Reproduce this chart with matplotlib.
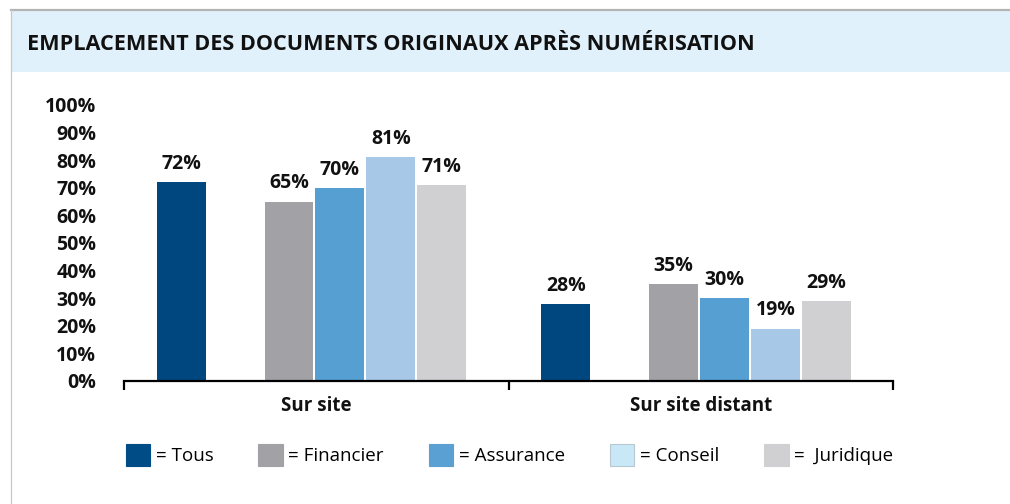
import matplotlib
matplotlib.use("Agg")
import matplotlib.pyplot as plt
from matplotlib.patches import Rectangle, Patch
from matplotlib.lines import Line2D
import numpy as np

plt.rcParams['font.family'] = ['Open Sans', 'DejaVu Sans']

title = "EMPLACEMENT DES DOCUMENTS ORIGINAUX APRÈS NUMÉRISATION"
categories = ["Sur site", "Sur site distant"]
series = ["Tous", "Financier", "Assurance", "Conseil", "Juridique"]
legend_labels = ["= Tous", "= Financier", "= Assurance", "= Conseil", "=  Juridique"]
values = {
    "Tous":      [72, 28],
    "Financier": [65, 35],
    "Assurance": [70, 30],
    "Conseil":   [81, 19],
    "Juridique": [71, 29],
}
yticks = [0, 10, 20, 30, 40, 50, 60, 70, 80, 90, 100]
ytick_labels = [f"{v}%" for v in yticks]

bar_colors = {"Tous": "#00477F", "Financier": "#A2A1A6", "Assurance": "#569FD3",
              "Conseil": "#A8C8E7", "Juridique": "#D0D0D2"}
legend_colors = {"Tous": "#004C87", "Financier": "#A2A1A6", "Assurance": "#5AA0D2",
                 "Conseil": "#C8E8F8", "Juridique": "#D0D0D2"}
offsets = [-0.351, -0.071, 0.061, 0.194, 0.326]
width = 0.127

W, H = 1010, 504
fig = plt.figure(figsize=(W / 100, H / 100), dpi=100)
fig.patch.set_facecolor("white")

# header band and frame lines
fig.patches.append(Rectangle((11 / W, 1 - 72 / H), 1 - 11 / W, 62 / H,
                             transform=fig.transFigure, facecolor="#E0F1FB",
                             edgecolor="none", zorder=0))
fig.lines.append(Line2D([11 / W, 1], [1 - 10 / H, 1 - 10 / H], transform=fig.transFigure,
                        color="#B4B4B4", lw=1.6))
fig.lines.append(Line2D([11 / W, 11 / W], [0, 1 - 10 / H], transform=fig.transFigure,
                        color="#C8C8C8", lw=0.9))
fig.text(27 / W, 1 - 44.5 / H, title, fontsize=15.6, fontweight="bold",
         va="center", ha="left", color="#111111")

ax = fig.add_axes([124 / W, (H - 381) / H, 769 / W, 276 / H])
x = np.arange(len(categories))
for s, off in zip(series, offsets):
    bars = ax.bar(x + off, values[s], width=width, color=bar_colors[s], zorder=2)
    for b, v in zip(bars, values[s]):
        ax.annotate(f"{v}%", (b.get_x() + b.get_width() / 2, b.get_height()),
                    xytext=(0, 9.5), textcoords="offset points", ha="center",
                    va="baseline", fontsize=14, fontweight="bold", color="#111111")

ax.set_xlim(-0.5, 1.5)
ax.set_ylim(0, 100)
ax.set_yticks(yticks)
ax.set_yticklabels(ytick_labels, fontsize=14, fontweight="bold", color="#111111")
ax.tick_params(axis="y", length=0, pad=20)
ax.set_xticks(x)
ax.set_xticklabels(categories, fontsize=13.5, fontweight="bold", color="#111111")
ax.tick_params(axis="x", which="major", length=0, pad=11)
ax.set_xticks([-0.5, 0.5, 1.5], minor=True)
ax.tick_params(axis="x", which="minor", length=6.5, width=1.6, direction="out", color="black")
for sp in ["left", "top", "right"]:
    ax.spines[sp].set_visible(False)
ax.spines["bottom"].set_linewidth(1.6)
ax.spines["bottom"].set_color("black")

handles = [Patch(facecolor=legend_colors[s],
                 edgecolor="#B8C8D0" if s == "Conseil" else legend_colors[s], lw=0.8)
           for s in series]
fig.legend(handles, legend_labels, loc="center left", bbox_to_anchor=(118 / W, 1 - 455 / H),
           ncol=5, frameon=False, fontsize=13.5, handlelength=1.3, handleheight=1.45,
           handletextpad=0.3, columnspacing=2.4, borderaxespad=0)

fig.savefig("out.png", dpi=100)
